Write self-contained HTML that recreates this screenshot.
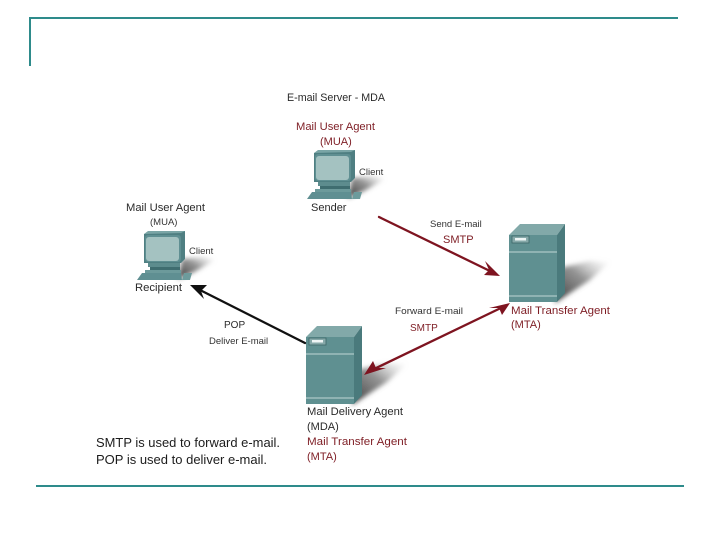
<!DOCTYPE html>
<html>
<head>
<meta charset="utf-8">
<style>
html,body{margin:0;padding:0;background:#fff;width:720px;height:540px;overflow:hidden}
svg{display:block}
text{font-family:"Liberation Sans",sans-serif;font-size:11px;fill:#2a2a2a}
.r{fill:#7e1d24}
.s{font-size:9.5px;fill:#333}
.b{font-size:13px;fill:#1c1c1c}
</style>
</head>
<body>
<svg width="720" height="540" viewBox="0 0 720 540" xmlns="http://www.w3.org/2000/svg">
<defs>
<filter id="bl" x="-30%" y="-30%" width="160%" height="160%"><feGaussianBlur stdDeviation="2.5"/></filter>
<linearGradient id="sh" x1="0" y1="1" x2="1" y2="0">
<stop offset="0" stop-color="#2a2a2a" stop-opacity=".95"/>
<stop offset=".55" stop-color="#666" stop-opacity=".7"/>
<stop offset="1" stop-color="#bbb" stop-opacity="0"/>
</linearGradient>
<g id="pc">
<polygon points="348,198 352,178 374,176 385,179 364,191" fill="url(#sh)" filter="url(#bl)"/>
<polygon points="314,153 318,152 355,150 355,178 351,182 314,182" fill="#4f7f82"/>
<polygon points="314,153 351,152 355,150 318,150" fill="#7aa5a6"/>
<rect x="315" y="154" width="36" height="27" rx="3" fill="#5f8f92"/>
<rect x="316" y="156" width="33" height="24" rx="3" fill="#a4c2c1"/>
<rect x="318" y="182" width="32" height="4" fill="#5d8c8e"/>
<rect x="320" y="186" width="30" height="3" fill="#3f6d70"/>
<rect x="315" y="189" width="36" height="3" fill="#6c9a9b"/>
<polygon points="312,192 351,192 352,199 307,199" fill="#5f8f92"/>
<polygon points="354,192 362,192 360,199 352,199" fill="#6d9b9c"/>
</g>
<g id="srv">
<polygon points="555,303 560,268 590,261 610,262 590,280" fill="url(#sh)" filter="url(#bl)"/>
<polygon points="509,235 520,224 565,224 557,235" fill="#82a9a9"/>
<polygon points="557,235 565,224 565,293 557,302" fill="#4a7a7c"/>
<rect x="509" y="235" width="48" height="67" fill="#5f9091"/>
<rect x="509" y="251" width="48" height="2" fill="#8fb3b3"/>
<rect x="509" y="295" width="48" height="2" fill="#8fb3b3"/>
<rect x="512" y="236" width="17" height="7" fill="#86a9a9" stroke="#3c6668" stroke-width=".8"/>
<rect x="515" y="238" width="11" height="2.5" fill="#eef5f5"/>
</g>
</defs>

<!-- frame -->
<rect x="29" y="17" width="649" height="2" fill="#2e8b8b"/>
<rect x="29" y="17" width="2" height="49" fill="#2e8b8b"/>
<rect x="36" y="485" width="648" height="2" fill="#2e8b8b"/>

<!-- devices -->
<use href="#pc"/>
<use href="#pc" x="-170" y="81"/>
<use href="#srv"/>
<use href="#srv" x="-203" y="102"/>

<!-- arrows -->
<g fill="none" stroke-linecap="round">
<line x1="379" y1="217" x2="492" y2="272" stroke="#7e1420" stroke-width="2.3"/>
<line x1="505" y1="306" x2="372" y2="370" stroke="#7e1420" stroke-width="2.3"/>
<line x1="305" y1="343" x2="198" y2="289" stroke="#111" stroke-width="2.3"/>
</g>
<polygon points="500,276 484,275 489,270 485,261" fill="#7e1420"/>
<polygon points="510,303 502,315 499,308 489,308" fill="#7e1420"/>
<polygon points="364,375 373,361 376,368 386,368" fill="#7e1420"/>
<polygon points="190,285 207,285 201,291 204,299" fill="#111"/>

<!-- labels -->
<text x="287" y="101" textLength="98" lengthAdjust="spacingAndGlyphs">E-mail Server - MDA</text>
<text x="296" y="130" class="r" textLength="79" lengthAdjust="spacingAndGlyphs">Mail User Agent</text>
<text x="320" y="145" class="r">(MUA)</text>
<text x="359" y="175" class="s">Client</text>
<text x="311" y="211">Sender</text>

<text x="126" y="211" textLength="79" lengthAdjust="spacingAndGlyphs">Mail User Agent</text>
<text x="150" y="225" class="s">(MUA)</text>
<text x="189" y="254" class="s">Client</text>
<text x="135" y="291" textLength="47" lengthAdjust="spacingAndGlyphs">Recipient</text>

<text x="430" y="227" class="s">Send E-mail</text>
<text x="443" y="243" class="r">SMTP</text>
<text x="395" y="314" class="s" textLength="68" lengthAdjust="spacingAndGlyphs">Forward E-mail</text>
<text x="410" y="331" class="r" style="font-size:10px">SMTP</text>
<text x="511" y="314" class="r" textLength="99" lengthAdjust="spacingAndGlyphs">Mail Transfer Agent</text>
<text x="511" y="328" class="r">(MTA)</text>

<text x="224" y="328" style="font-size:10px">POP</text>
<text x="209" y="344" class="s">Deliver E-mail</text>

<text x="307" y="415" textLength="96" lengthAdjust="spacingAndGlyphs">Mail Delivery Agent</text>
<text x="307" y="430">(MDA)</text>
<text x="307" y="445" class="r" textLength="100" lengthAdjust="spacingAndGlyphs">Mail Transfer Agent</text>
<text x="307" y="460" class="r">(MTA)</text>

<text x="96" y="447" class="b" textLength="184" lengthAdjust="spacingAndGlyphs">SMTP is used to forward e-mail.</text>
<text x="96" y="464" class="b" textLength="171" lengthAdjust="spacingAndGlyphs">POP is used to deliver e-mail.</text>
</svg>
</body>
</html>
